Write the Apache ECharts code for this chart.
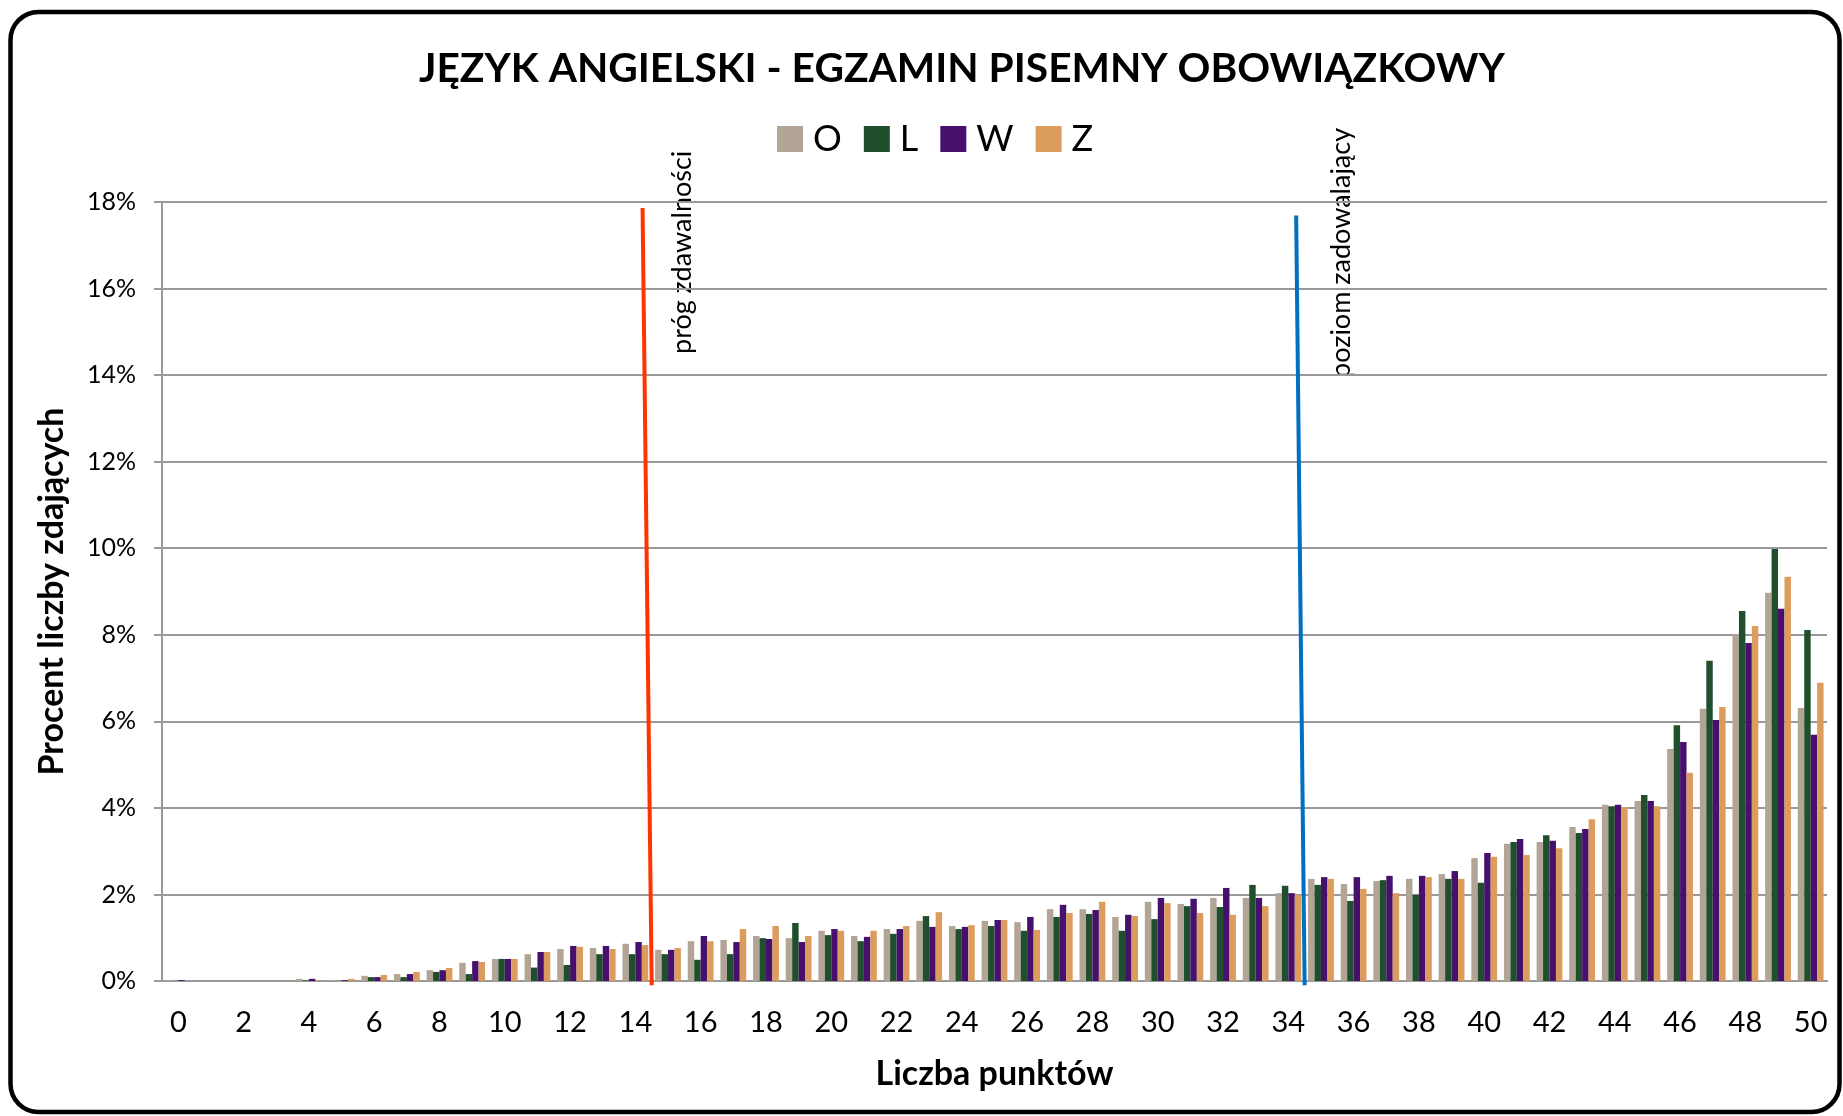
<!DOCTYPE html>
<html>
<head>
<meta charset="utf-8">
<script src="https://cdn.jsdelivr.net/npm/echarts@6/dist/echarts.min.js"></script>
<style>
  html, body { margin: 0; padding: 0; background: #ffffff; }
  #chart { width: 1843px; height: 1116px; }
</style>
</head>
<body>
<div id="chart"></div>
<script>
  // liczba punktów 0..50
  var categories = [];
  for (var i = 0; i <= 50; i++) categories.push(String(i));

  var seriesNames = ['O', 'L', 'W', 'Z'];

  // procent liczby zdających
  var valuesO = [0.02, 0, 0, 0, 0.05, 0.02, 0.12, 0.16, 0.25, 0.42, 0.51, 0.62, 0.74, 0.76, 0.86, 0.72, 0.92, 0.95, 1.04, 0.99,
    1.16, 1.04, 1.20, 1.39, 1.27, 1.39, 1.36, 1.66, 1.66, 1.48, 1.83, 1.78, 1.92, 1.92, 2.03, 2.36, 2.24, 2.31, 2.36, 2.47,
    2.84, 3.17, 3.21, 3.56, 4.07, 4.16, 5.36, 6.29, 8.02, 8.97, 6.31];
  var valuesL = [0, 0, 0, 0, 0.015, 0, 0.09, 0.09, 0.21, 0.16, 0.51, 0.31, 0.37, 0.62, 0.62, 0.62, 0.49, 0.62, 0.99, 1.34,
    1.06, 0.92, 1.09, 1.50, 1.20, 1.27, 1.16, 1.48, 1.55, 1.16, 1.43, 1.73, 1.71, 2.22, 2.20, 2.22, 1.85, 2.33, 1.99, 2.36,
    2.27, 3.21, 3.37, 3.42, 4.04, 4.30, 5.91, 7.40, 8.55, 9.98, 8.11];
  var valuesW = [0.02, 0, 0, 0, 0.05, 0.02, 0.09, 0.16, 0.25, 0.46, 0.51, 0.67, 0.81, 0.81, 0.90, 0.72, 1.04, 0.90, 0.97, 0.90,
    1.20, 1.02, 1.20, 1.25, 1.25, 1.41, 1.48, 1.76, 1.64, 1.53, 1.92, 1.90, 2.15, 1.92, 2.03, 2.40, 2.40, 2.43, 2.43, 2.54,
    2.96, 3.28, 3.24, 3.51, 4.07, 4.16, 5.52, 6.03, 7.81, 8.60, 5.69];
  var valuesZ = [0, 0, 0, 0, 0.015, 0.05, 0.14, 0.21, 0.30, 0.44, 0.51, 0.67, 0.79, 0.74, 0.83, 0.76, 0.92, 1.20, 1.27, 1.04,
    1.16, 1.16, 1.27, 1.59, 1.29, 1.41, 1.18, 1.57, 1.83, 1.50, 1.80, 1.57, 1.53, 1.73, 1.99, 2.36, 2.13, 2.03, 2.40, 2.36,
    2.87, 2.91, 3.07, 3.74, 4.02, 4.04, 4.81, 6.33, 8.20, 9.34, 6.89];

  // progi: [x na osi punktów, y w %] - góra i dół linii
  var progZdawalnosci = [[14.72, 17.86], [15.0, -0.1]];
  var poziomZadowalajacy = [[34.74, 17.69], [35.0, -0.1]];

  var yTicks = [0, 2, 4, 6, 8, 10, 12, 14, 16, 18];

  var FONT = 'Lato, "Noto Sans", sans-serif';
  var colors = ['#b3a596', '#1f4f2d', '#47106c', '#dc9c5e'];

  var chart = echarts.init(document.getElementById('chart'));

  var barSeries = [valuesO, valuesL, valuesW, valuesZ].map(function (vals, idx) {
    return {
      name: seriesNames[idx],
      type: 'bar',
      data: vals,
      barGap: '0%',
      barCategoryGap: '21%',
      itemStyle: { color: colors[idx] }
    };
  });

  var option = {
    animation: false,
    color: colors,
    textStyle: { fontFamily: FONT, color: '#000' },
    title: {
      text: 'JĘZYK ANGIELSKI - EGZAMIN PISEMNY OBOWIĄZKOWY',
      left: 414,
      top: 43,
      textStyle: { fontFamily: FONT, fontSize: 40.7, fontWeight: 'bold', color: '#000' }
    },
    legend: {
      data: seriesNames,
      left: 772,
      top: 116,
      icon: 'rect',
      itemWidth: 26,
      itemHeight: 26,
      itemGap: 22,
      textStyle: { fontFamily: FONT, fontSize: 36, color: '#000', padding: [0, 0, 0, 5] }
    },
    grid: { left: 162, right: 16, top: 202, bottom: 135 },
    xAxis: [
      {
        type: 'category',
        data: categories,
        name: 'Liczba punktów',
        nameLocation: 'middle',
        nameGap: 76,
        nameTextStyle: { fontFamily: FONT, fontSize: 34, fontWeight: 'bold', color: '#000' },
        axisLine: { lineStyle: { color: '#999', width: 2 } },
        axisTick: { interval: 0, length: 10, lineStyle: { color: '#999', width: 2 } },
        axisLabel: { interval: 1, fontSize: 29, color: '#000', margin: 27 }
      },
      { type: 'value', min: 0, max: 51, show: false }
    ],
    yAxis: {
      type: 'value',
      min: yTicks[0],
      max: yTicks[yTicks.length - 1],
      interval: 2,
      name: 'Procent liczby zdających',
      nameLocation: 'middle',
      nameGap: 93,
      nameTextStyle: { fontFamily: FONT, fontSize: 34, fontWeight: 'bold', color: '#000' },
      axisLine: { show: true, lineStyle: { color: '#999', width: 2 } },
      axisTick: { show: true, length: 8, lineStyle: { color: '#999', width: 2 } },
      axisLabel: { formatter: '{value}%', fontSize: 25, color: '#000', margin: 26 },
      splitLine: { lineStyle: { color: '#999', width: 2 } }
    },
    series: barSeries.concat([
      {
        name: 'próg zdawalności',
        type: 'line',
        xAxisIndex: 1,
        data: progZdawalnosci,
        symbol: 'none',
        clip: false,
        lineStyle: { color: '#ff3300', width: 4 },
        z: 5
      },
      {
        name: 'poziom zadowalający',
        type: 'line',
        xAxisIndex: 1,
        data: poziomZadowalajacy,
        symbol: 'none',
        clip: false,
        lineStyle: { color: '#0070c0', width: 4 },
        z: 5
      }
    ]),
    graphic: [
      {
        type: 'rect',
        shape: { x: 10.5, y: 12, width: 1829, height: 1100, r: 28 },
        style: { fill: 'none', stroke: '#000', lineWidth: 4.5 },
        silent: true
      },
      {
        type: 'text',
        x: 682,
        y: 354,
        rotation: Math.PI / 2,
        style: { text: 'próg zdawalności', font: '27px ' + FONT, fill: '#000', textAlign: 'left', textVerticalAlign: 'middle' }
      },
      {
        type: 'text',
        x: 1341,
        y: 378,
        rotation: Math.PI / 2,
        style: { text: 'poziom zadowalający', font: '27px ' + FONT, fill: '#000', textAlign: 'left', textVerticalAlign: 'middle' }
      }
    ]
  };

  chart.setOption(option);
</script>
</body>
</html>
